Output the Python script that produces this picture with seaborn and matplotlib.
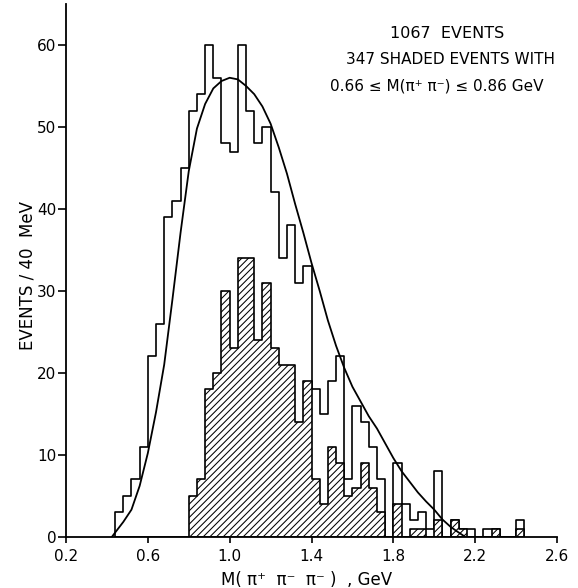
import numpy as np
import pandas as pd
import matplotlib.pyplot as plt
import seaborn as sns

# ------------------------
# Data (40 MeV bins)
# ------------------------

all_start = 0.44
all_counts = [3, 5, 7, 11, 22, 26, 39, 41, 45, 52,
              54, 60, 56, 48, 47, 60, 52, 48, 50, 42,
              34, 38, 31, 33, 18, 15, 19, 22, 7, 16,
              14, 11, 7, 0, 9, 4, 2, 3, 1, 8,
              0, 2, 1, 1, 0, 1, 1, 0, 0, 2]

shaded_start = 0.80
shaded_counts = [5, 7, 18, 20, 30, 23, 34, 34, 24, 31,
                 23, 21, 21, 14, 19, 7, 4, 11, 9, 5,
                 6, 9, 6, 3, 0, 4, 0, 1, 1, 0,
                 2, 0, 2, 1, 0, 0, 0, 1, 0, 0,
                 1]

curve_x = [0.425, 0.44, 0.48, 0.52, 0.56, 0.60, 0.64, 0.68, 0.72, 0.76,
           0.80, 0.84, 0.88, 0.92, 0.96, 1.00, 1.04, 1.08, 1.12, 1.16,
           1.20, 1.24, 1.28, 1.32, 1.36, 1.40, 1.44, 1.48, 1.52, 1.56,
           1.60, 1.64, 1.68, 1.72, 1.76, 1.80, 1.84, 1.88, 1.92, 1.96,
           2.00, 2.04, 2.08, 2.12, 2.15]
curve_y = [0.0, 0.5, 1.8, 3.3, 6.2, 10.2, 15.2, 21.0, 28.9, 37.1,
           44.6, 49.8, 52.8, 54.7, 55.6, 56.0, 55.8, 55.0, 54.0, 52.5,
           50.4, 47.5, 44.3, 40.6, 37.1, 33.4, 30.0, 26.4, 23.3, 20.6,
           18.3, 16.5, 14.7, 13.2, 11.4, 9.6, 8.0, 6.7, 5.4, 4.3,
           3.3, 2.1, 1.2, 0.5, 0.0]

width = 0.04
all_edges = np.round(all_start + width * np.arange(len(all_counts) + 1), 2)
shaded_edges = np.round(shaded_start + width * np.arange(len(shaded_counts) + 1), 2)

df_all = pd.DataFrame({"mass": all_edges[:-1] + width / 2, "n": all_counts})
df_shaded = pd.DataFrame({"mass": shaded_edges[:-1] + width / 2, "n": shaded_counts})

# ------------------------
# Figure
# ------------------------

sns.set_style("ticks")
plt.rcParams["font.family"] = ["DejaVu Sans"]
plt.rcParams["text.color"] = "black"
plt.rcParams["axes.labelcolor"] = "black"
plt.rcParams["hatch.linewidth"] = 0.75

fig = plt.figure(figsize=(5.78, 5.88), dpi=100)
ax = fig.add_axes([66 / 578, 1 - 536.7 / 588, 491 / 578, 532.7 / 588])

sns.histplot(data=df_all, x="mass", weights="n", bins=list(all_edges),
             element="step", fill=True, color="black", facecolor="none",
             edgecolor="black", linewidth=1.2, ax=ax)

sns.histplot(data=df_shaded, x="mass", weights="n", bins=list(shaded_edges),
             element="step", fill=True, color="black", facecolor="white",
             edgecolor="black", hatch="/////", linewidth=1.2, ax=ax)

sns.lineplot(x=curve_x, y=curve_y, color="black", linewidth=1.3, ax=ax)

ax.set_xlim(0.2, 2.6)
ax.set_ylim(0, 65)
ax.set_xticks([0.2, 0.6, 1.0, 1.4, 1.8, 2.2, 2.6])
ax.set_xticklabels(["0.2", "0.6", "1.0", "1.4", "1.8", "2.2", "2.6"])
ax.set_yticks([0, 10, 20, 30, 40, 50, 60])
ax.tick_params(direction="out", width=1.2, labelsize=11, colors="black")
ax.tick_params(axis="x", length=4.5, pad=4)
ax.tick_params(axis="y", length=6, pad=1)
sns.despine(ax=ax)
for s in ["left", "bottom"]:
    ax.spines[s].set_linewidth(1.3)
    ax.spines[s].set_color("black")

ax.set_xlabel("M( π⁺  π⁻  π⁻ )  , GeV", fontsize=12)
ax.set_ylabel("EVENTS / 40  MeV", fontsize=12)
ax.xaxis.set_label_coords(0.489, -0.064)
ax.yaxis.set_label_coords(-0.06, 0.49)

fig.text(447 / 578, 1 - 33 / 588, "1067  EVENTS", ha="center", va="center", fontsize=11.5)
fig.text(450 / 578, 1 - 60 / 588, "347 SHADED EVENTS WITH", ha="center", va="center", fontsize=11)
fig.text(437 / 578, 1 - 86 / 588, "0.66 ≤ M(π⁺ π⁻) ≤ 0.86 GeV", ha="center", va="center", fontsize=11)

plt.savefig("out.png", dpi=100)
